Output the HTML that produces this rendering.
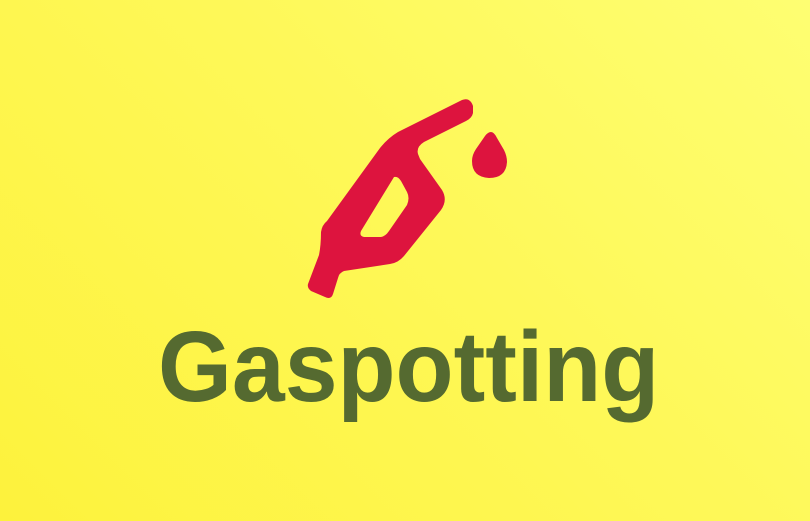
<!DOCTYPE html>
<html>
<head>
<meta charset="utf-8">
<style>
  html,body{margin:0;padding:0;}
  body{width:810px;height:521px;overflow:hidden;
    background:linear-gradient(225deg,#fefe72 0%,#fef858 45%,#fdf23c 100%);}
  svg{position:absolute;left:0;top:0;}
</style>
</head>
<body>
<svg width="810" height="521" viewBox="0 0 810 521">
  <path fill="#dd143e" fill-rule="evenodd"
    d="M462,100 Q470,97 473,106 L473,113 Q472,118 466,121 L424,142 Q416,147 418,154 L420,159 L442,190 Q448,200 441,210 L404,256 Q398,263 390,264 L344,271 Q339,273 338,278 L333,294 Q331,300 325,297 L311,291 Q307,288 308,284 L319,255 Q321,245 321,232 Q322,225 327,221 L380,148 Q388,138 398,132 Z
    M394,177 Q398,176 401,181 L407,192 Q410,198 407,205 L389,231 Q385,237 380,237 L364,237 Q359,236 361,231 Z"/>
  <path fill="#dd143e"
    d="M491,132 Q494,132 497,138 L504,150 Q507,156 507,162 Q506,178 489,178 Q472,177 472,161 Q472,155 476,149 L485,136 Q488,132 491,132 Z"/>
  <text x="0" y="401"
    transform="translate(158,0) scale(0.95,1)"
    font-family="'Liberation Sans', sans-serif" font-weight="bold" font-size="100"
    fill="#556a30">Gaspotting</text>
</svg>
</body>
</html>
